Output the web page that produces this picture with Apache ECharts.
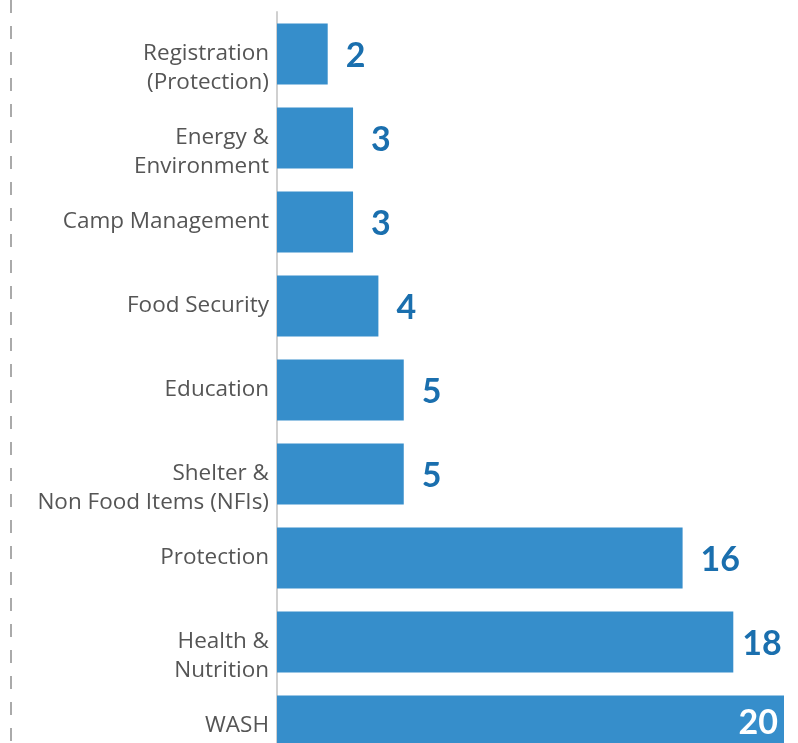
<!DOCTYPE html>
<html><head><meta charset="utf-8">
<script src="https://cdn.jsdelivr.net/npm/echarts@6/dist/echarts.min.js"></script>
<style>html,body{margin:0;padding:0;background:#fff}#c{width:798px;height:743px}</style>
</head><body><div id="c"></div>
<script>
const categories = ["Registration\n(Protection)", "Energy &\nEnvironment", "Camp Management", "Food Security", "Education", "Shelter &\nNon Food Items (NFIs)", "Protection", "Health &\nNutrition", "WASH"];
const values = [2, 3, 3, 4, 5, 5, 16, 18, 20];

const chart = echarts.init(document.getElementById('c'));
const FONT = '"Open Sans", Lato, sans-serif';
const NUMFONT = 'Lato, "Open Sans", sans-serif';
const last = values.length - 1;
chart.setOption({
  animation: false,
  grid: { left: 277, right: 14, top: 12, bottom: -25, containLabel: false, outerBoundsMode: 'none' },
  xAxis: { type: 'value', min: 0, max: 20, show: false },
  yAxis: {
    type: 'category', inverse: true, data: categories,
    axisLine: { show: true, lineStyle: { color: '#d0d0d0', width: 2 } },
    axisTick: { show: false },
    axisLabel: {
      interval: 0, hideOverlap: false, showMinLabel: true, showMaxLabel: true,
      color: '#555', fontSize: 22.5, lineHeight: 28.5, fontFamily: FONT, margin: 8,
      padding: [6, 0, 0, 0],
      formatter: v => v.indexOf('\n') >= 0 ? '\n' + v : v
    }
  },
  series: [{
    type: 'bar',
    data: values.map((v, i) => {
      if (i === last) return { value: v, label: { position: 'insideRight', color: '#fff', fontSize: 34, offset: [0, -3], distance: 6 } };
      if (i === last - 1) return { value: v, label: { distance: 9 } };
      return v;
    }),
    barWidth: 61,
    itemStyle: { color: '#368ecb' },
    label: { show: true, position: 'right', distance: 18, offset: [0, 2], color: '#1a6fae', fontSize: 34, fontWeight: 'bold', fontFamily: NUMFONT }
  }],
  graphic: [{
    type: 'line', shape: { x1: 11, y1: 0, x2: 11, y2: 743 },
    style: { stroke: '#aaa', lineWidth: 2, lineDash: [13, 13] }
  }]
});
</script></body></html>
